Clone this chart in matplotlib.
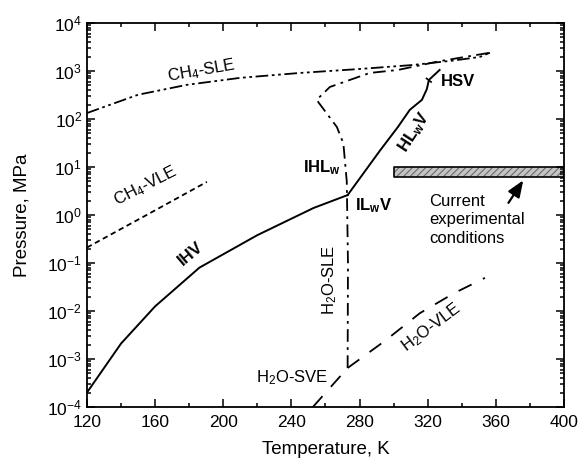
import numpy as np
import matplotlib
matplotlib.use("Agg")
import matplotlib.pyplot as plt
from matplotlib.ticker import MultipleLocator, LogLocator, NullFormatter

plt.rcParams['font.family'] = ['Liberation Sans', 'DejaVu Sans']
plt.rcParams['mathtext.fontset'] = 'custom'
plt.rcParams['mathtext.rm'] = 'Liberation Sans'
plt.rcParams['mathtext.bf'] = 'Liberation Sans:bold'
plt.rcParams['mathtext.default'] = 'regular'
plt.rcParams['hatch.linewidth'] = 0.8

# hydrate / phase boundaries (T in K, P in MPa)
ihv_T = [120, 140, 160, 186, 220, 253, 273]
ihv_P = [2e-4, 2.1e-3, 1.25e-2, 0.08, 0.38, 1.4, 2.6]

hlwv_T = [273, 292, 302.5, 309.5, 316.6, 319.5, 320.7, 327]
hlwv_P = [2.6, 22, 68, 155, 250, 420, 650, 1050]

h2o_sle_T = [273, 273.2, 272.5, 270.5, 266.7, 254.8, 262.6, 286, 302.5, 327, 356.5]
h2o_sle_P = [6.5e-4, 0.1, 5, 31, 68, 250, 465, 910, 1050, 1600, 2400]

ch4_sle_T = [120, 150, 178.7, 210, 245, 280, 311, 335, 350.6, 356.5]
ch4_sle_P = [133, 320, 515, 720, 910, 1100, 1330, 1650, 1960, 2400]

ch4_vle_T = [120, 155, 190.4]
ch4_vle_P = [0.21, 1.0, 4.9]

h2o_vle_T = [273, 295, 315.4, 335, 353.6]
h2o_vle_P = [6.5e-4, 2.4e-3, 9e-3, 2.3e-2, 0.049]

h2o_sve_T = [252.6, 273]
h2o_sve_P = [1.0e-4, 6.5e-4]

# current experimental window
exp_T = [300, 400]
exp_P_low = 6.2
exp_P_high = 10

fig = plt.figure(figsize=(5.81, 4.69), dpi=100)
ax = fig.add_axes([0.1497, 0.1322, 0.8210, 0.8188])

ax.plot(ihv_T, ihv_P, color='black', lw=1.4)
ax.plot(hlwv_T, hlwv_P, color='black', lw=1.4)
ax.plot(h2o_sle_T, h2o_sle_P, color='black', lw=1.3, ls=(0, (7, 3, 1.5, 3)))
ax.plot(ch4_sle_T, ch4_sle_P, color='black', lw=1.3, ls=(0, (7, 2, 1.5, 2, 1.5, 2)))
ax.plot(ch4_vle_T, ch4_vle_P, color='black', lw=1.3, ls=(0, (3, 2)))
ax.plot(h2o_vle_T, h2o_vle_P, color='black', lw=1.3, ls=(0, (8, 7)))
ax.plot(h2o_sve_T, h2o_sve_P, color='black', lw=1.3, ls=(0, (8, 7)))

# small tick at end of HSV
ax.plot([319.3, 322], [700, 590], color='black', lw=1.2)

ax.fill_between(exp_T, exp_P_low, exp_P_high, facecolor='#c4c4c4',
                edgecolor='#6a6a6a', hatch='/////', lw=0)
ax.fill_between(exp_T, exp_P_low, exp_P_high, facecolor='none',
                edgecolor='black', lw=1.2)

ax.annotate('', xy=(377, 5.9), xytext=(366.5, 1.6),
            arrowprops=dict(arrowstyle='-|>,head_width=0.4,head_length=1.0',
                            color='black', lw=1.6))
ax.text(321, 0.8, 'Current\nexperimental\nconditions', fontsize=12,
        ha='left', va='center', linespacing=1.3)

ax.text(187.5, 1000, 'CH$_4$-SLE', fontsize=12, rotation=10, ha='center', va='center')
ax.text(154.5, 4.0, 'CH$_4$-VLE', fontsize=12, rotation=27, ha='center', va='center')
ax.text(181, 0.16, 'IHV', fontsize=12, fontweight='bold', rotation=40,
        ha='center', va='center')
ax.text(258, 9.5, r'IHL$_\mathbf{w}$', fontsize=12, fontweight='bold', ha='center', va='center')
ax.text(288.5, 1.6, r'IL$_\mathbf{w}$V', fontsize=12, fontweight='bold', ha='center', va='center')
ax.text(312, 54, r'HL$_\mathbf{w}$V', fontsize=12, fontweight='bold', rotation=57,
        ha='center', va='center')
ax.text(337.5, 590, 'HSV', fontsize=12, fontweight='bold', ha='center', va='center')
ax.text(262.5, 0.045, 'H$_2$O-SLE', fontsize=12, rotation=90, ha='center', va='center')
ax.text(322, 4.5e-3, 'H$_2$O-VLE', fontsize=12, rotation=37, ha='center', va='center')
ax.text(261.5, 4e-4, 'H$_2$O-SVE', fontsize=12, ha='right', va='center')

ax.set_xlim(120, 400)
ax.set_yscale('log')
ax.set_ylim(1e-4, 1e4)
ax.xaxis.set_major_locator(MultipleLocator(40))
ax.xaxis.set_minor_locator(MultipleLocator(20))
ax.yaxis.set_major_locator(LogLocator(base=10, numticks=20))
ax.yaxis.set_minor_locator(LogLocator(base=10, subs=np.arange(2, 10), numticks=20))
ax.yaxis.set_minor_formatter(NullFormatter())
ax.tick_params(which='both', direction='in', top=True, right=True, labelsize=12.5, width=1.1)
ax.tick_params(which='major', length=6)
ax.tick_params(which='minor', length=3)
ax.tick_params(axis='x', pad=6)
for s in ax.spines.values():
    s.set_linewidth(1.3)

ax.set_xlabel('Temperature, K', fontsize=13.5, labelpad=8)
ax.set_ylabel('Pressure, MPa', fontsize=13.5, labelpad=12)

fig.savefig('out.png', dpi=100)
